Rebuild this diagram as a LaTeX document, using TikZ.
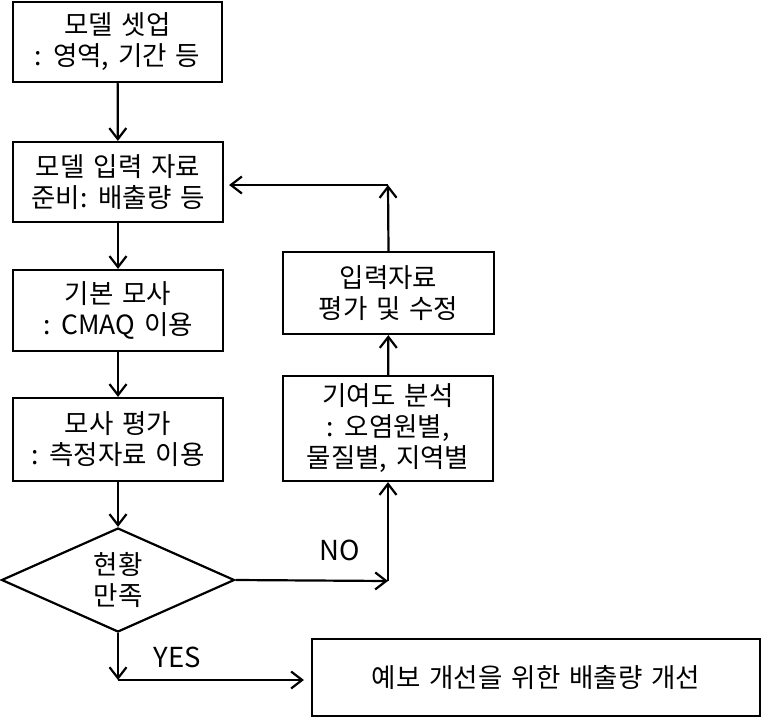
\documentclass[tikz,border=0pt]{standalone}
\usepackage{fontspec}
\setmainfont[WordSpace=1.5]{Noto Sans CJK KR}
\usetikzlibrary{arrows.meta,shapes.geometric}
\begin{document}
\begin{tikzpicture}[x=1pt,y=-1pt,
  every node/.style={font=\fontsize{26.5}{31}\selectfont},
  box/.style={draw, line width=2.2pt, rectangle, inner sep=0pt, align=center},
  dia/.style={draw, line width=2.2pt, diamond, inner sep=0pt, align=center},
  arr/.style={line width=2.2pt, -{Straight Barb[length=11pt,width=17pt,line width=2.2pt]}},
  lbl/.style={inner sep=0pt, font=\fontsize{27.5}{29}\selectfont}
]
\useasboundingbox (0,0) rectangle (762,717);
\node[box, minimum width=209pt, minimum height=80pt] (b1) at (117.5,42) {모델 셋업\\: 영역, 기간 등};
\node[box, minimum width=210pt, minimum height=80pt] (b2) at (118,182) {모델 입력 자료\\준비: 배출량 등};
\node[box, minimum width=210pt, minimum height=81pt] (b3) at (118,310.5) {기본 모사\\: CMAQ 이용};
\node[box, minimum width=210pt, minimum height=83pt] (b4) at (118,439.5) {모사 평가\\: 측정자료 이용};
\node[dia, minimum width=233pt, minimum height=104pt] (d) at (118,580) {현황\\만족};
\node[box, minimum width=210pt, minimum height=105pt] (c) at (388,428.5) {기여도 분석\\: 오염원별,\\물질별, 지역별};
\node[box, minimum width=211pt, minimum height=82pt] (m) at (388.5,293) {입력자료\\평가 및 수정};
\node[box, minimum width=448pt, minimum height=77pt] (f) at (536,677.5) {예보 개선을 위한 배출량 개선};
\coordinate (c1) at (388,581);
\coordinate (c2) at (118,680);
\coordinate (c3) at (388,185);
\draw[arr] (b1) -- (b2);
\draw[arr] (b2) -- (b3);
\draw[arr] (b3) -- (b4);
\draw[arr] (b4) -- (d);
\draw[arr] (d.east) -- (c1);
\draw[arr] (c1) -- (c.south);
\draw[arr] (c) -- (m);
\draw[arr] (m.north) -- (c3);
\draw[arr, shorten >=5pt] (c3) -- (b2.east |- c3);
\draw[arr] (d.south) -- (c2);
\draw[arr, shorten >=7pt] (c2) -- (f.west |- c2);
\node[lbl] (no) at (340,550) {NO};
\node[lbl] (yes) at (177,657) {YES};
\end{tikzpicture}
\end{document}
